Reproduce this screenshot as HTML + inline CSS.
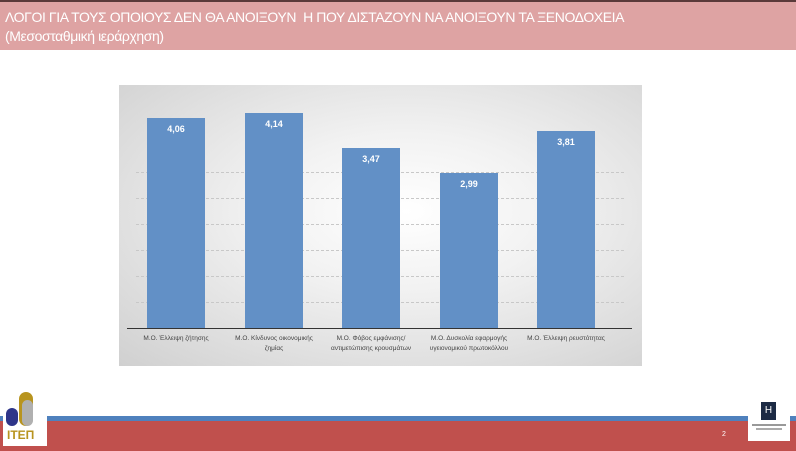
<!DOCTYPE html>
<html><head><meta charset="utf-8"><style>
body{margin:0;width:796px;height:451px;position:relative;overflow:hidden;background:#fff;font-family:"Liberation Sans",sans-serif}
.hdr{position:absolute;left:0;top:0;width:796px;height:50px;background:#dea3a3;border-top:2px solid #5a3a3a;box-sizing:border-box;color:#fff;font-size:14px;line-height:19px;padding:6px 0 0 5px;letter-spacing:-0.4px}
.chart{position:absolute;left:119px;top:85px;width:523px;height:281px;background:radial-gradient(ellipse at 55% 45%,#fff 0%,#f2f2f2 35%,#d0d0d0 100%)}
.grid{position:absolute;left:136px;width:488px;border-top:1px dashed #c8c8c8}
.bar{position:absolute;width:58px;background:#6290c6;color:#fff;font-weight:bold;font-size:9px;text-align:center;padding-top:6px;box-sizing:border-box}
.lab{position:absolute;top:334px;width:84px;text-align:center;font-size:6.5px;color:#444;line-height:10px}
</style></head><body>
<div class="hdr">ΛΟΓΟΙ ΓΙΑ ΤΟΥΣ ΟΠΟΙΟΥΣ ΔΕΝ ΘΑ ΑΝΟΙΞΟΥΝ &nbsp;Η ΠΟΥ ΔΙΣΤΑΖΟΥΝ ΝΑ ΑΝΟΙΞΟΥΝ ΤΑ ΞΕΝΟΔΟΧΕΙΑ<br>(Μεσοσταθμική ιεράρχηση)</div>
<div class="chart"></div>
<div class="grid" style="top:172px"></div><div class="grid" style="top:198px"></div><div class="grid" style="top:224px"></div><div class="grid" style="top:250px"></div><div class="grid" style="top:276px"></div><div class="grid" style="top:302px"></div>
<div class="bar" style="left:147px;top:118px;height:210px">4,06</div>
<div class="bar" style="left:245px;top:113px;height:215px">4,14</div>
<div class="bar" style="left:342px;top:148px;height:180px">3,47</div>
<div class="bar" style="left:440px;top:173px;height:155px">2,99</div>
<div class="bar" style="left:537px;top:131px;height:197px">3,81</div>
<div style="position:absolute;left:127px;top:328px;width:505px;border-top:1px solid #333"></div>
<div class="lab" style="left:134px">Μ.Ο. Έλλειψη ζήτησης</div>
<div class="lab" style="left:232px">Μ.Ο. Κίνδυνος οικονομικής ζημίας</div>
<div class="lab" style="left:329px">Μ.Ο. Φόβος εμφάνισης/αντιμετώπισης κρουσμάτων</div>
<div class="lab" style="left:427px">Μ.Ο. Δυσκολία εφαρμογής υγειονομικού πρωτοκόλλου</div>
<div class="lab" style="left:524px">Μ.Ο. Έλλειψη ρευστότητας</div>
<div style="position:absolute;left:0;top:416px;width:796px;height:5px;background:#4f81bd"></div>
<div style="position:absolute;left:0;top:421px;width:796px;height:30px;background:#c0504d"></div>
<div style="position:absolute;left:3px;top:390px;width:44px;height:56px;background:#fff"></div>
<div style="position:absolute;left:19px;top:392px;width:14px;height:34px;border-radius:7px;background:#b8941f"></div>
<div style="position:absolute;left:22px;top:400px;width:11px;height:26px;border-radius:6px;background:#b0b0b0"></div>
<div style="position:absolute;left:6px;top:408px;width:12px;height:18px;border-radius:6px;background:#2e3589"></div>
<div style="position:absolute;left:7px;top:428px;font-size:12px;font-weight:bold;color:#b8941f">ITEΠ</div>
<div style="position:absolute;left:722px;top:431px;font-size:7px;color:#fff">2</div>
<div style="position:absolute;left:748px;top:400px;width:42px;height:41px;background:#fff"></div>
<div style="position:absolute;left:761px;top:402px;width:15px;height:18px;background:#1c2a44;color:#fff;font-size:10px;text-align:center;line-height:17px">H</div>
<div style="position:absolute;left:752px;top:424px;width:34px;height:2px;background:#999"></div>
<div style="position:absolute;left:756px;top:428px;width:26px;height:2px;background:#aaa"></div>
</body></html>
